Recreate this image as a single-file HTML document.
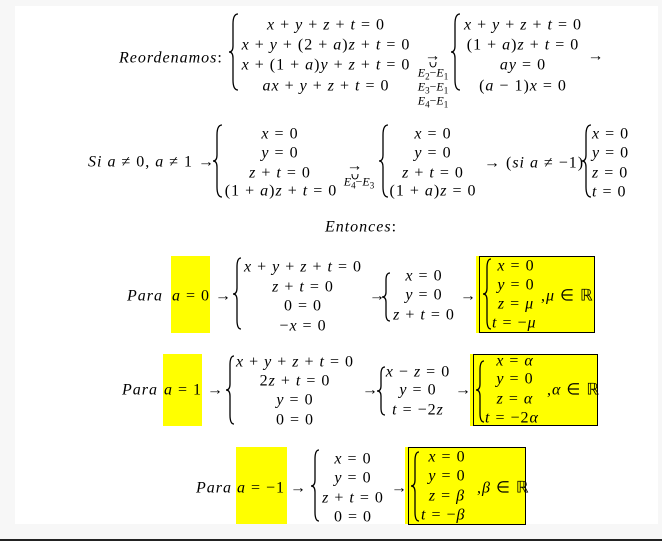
<!DOCTYPE html>
<html><head><meta charset="utf-8"><style>
html,body{margin:0;padding:0}
body{width:662px;height:541px;background:#f7f7f7;position:relative;overflow:hidden;font-family:"Liberation Serif",serif;color:#000}
.panel{position:absolute;left:15px;top:6px;width:643px;height:518px;background:#fff}
.bar{position:absolute;left:0;top:539px;width:662px;height:2px;background:#222}
.t,.l{position:absolute;font-size:16px;letter-spacing:1px;white-space:pre;line-height:1}
.t{transform:translate(-50%,-40%)}
.l{transform:translateY(-40%)}
.s{position:absolute;font-size:12px;white-space:pre;transform:translate(-50%,-50%);line-height:1}
i{font-style:italic}
svg{position:absolute;left:0;top:0}
</style></head><body>
<div class="panel"></div>
<div class="bar"></div>
<svg width="662" height="541">
<rect x="171" y="256" width="39" height="77" fill="#ffff00"/>
<rect x="476" y="256" width="4" height="77" fill="#ffff00"/>
<rect x="479.5" y="256.5" width="115" height="76" fill="#ffff00" stroke="#000" stroke-width="1"/>
<rect x="163" y="354" width="39" height="72" fill="#ffff00"/>
<rect x="470" y="354" width="4" height="72" fill="#ffff00"/>
<rect x="473.5" y="354.5" width="124" height="71" fill="#ffff00" stroke="#000" stroke-width="1"/>
<rect x="236" y="447" width="51" height="77" fill="#ffff00"/>
<rect x="405" y="447" width="4" height="77" fill="#ffff00"/>
<rect x="408.5" y="447.5" width="117" height="77" fill="#ffff00" stroke="#000" stroke-width="1"/>
<g fill="none" stroke="#000" stroke-width="1.3">
<path d="M238,14 Q233,14 233,24 L233,46 Q233,52 229,52 Q233,52 233,58 L233,80 Q233,90 238,90"/>
<path d="M460,14 Q455,14 455,24 L455,46 Q455,52 451,52 Q455,52 455,58 L455,80 Q455,90 460,90"/>
<path d="M222,125 Q217,125 217,135 L217,155 Q217,161 213,161 Q217,161 217,167 L217,187 Q217,197 222,197"/>
<path d="M388,125 Q383,125 383,135 L383,155 Q383,161 379,161 Q383,161 383,167 L383,187 Q383,197 388,197"/>
<path d="M591,125 Q586,125 586,135 L586,155 Q586,161 582,161 Q586,161 586,167 L586,187 Q586,197 591,197"/>
<path d="M241,258 Q237,258 237,267 L237,288 Q237,294 233,294 Q237,294 237,300 L237,320 Q237,329 241,329"/>
<path d="M390,273 Q386,273 386,280 L386,292 Q386,297 382,297 Q386,297 386,302 L386,314 Q386,321 390,321"/>
<path d="M491,259 Q487,259 487,268 L487,288 Q487,294 483,294 Q487,294 487,300 L487,320 Q487,329 491,329"/>
<path d="M234,356 Q230,356 230,365 L230,384 Q230,390 226,390 Q230,390 230,396 L230,415 Q230,424 234,424"/>
<path d="M385,367 Q381,367 381,374 L381,386 Q381,391 377,391 Q381,391 381,396 L381,408 Q381,415 385,415"/>
<path d="M484,361 Q480,361 480,370 L480,384 Q480,390 476,390 Q480,390 480,396 L480,413 Q480,422 484,422"/>
<path d="M319,450 Q315,450 315,459 L315,480 Q315,486 311,486 Q315,486 315,492 L315,512 Q315,521 319,521"/>
<path d="M419,452 Q415,452 415,461 L415,480 Q415,486 411,486 Q415,486 415,492 L415,512 Q415,521 419,521"/>
</g>
<g fill="none" stroke="#000" stroke-width="1">
<path d="M430,62 Q430,67 433,67 Q436,67 436,62"/>
<path d="M352,174 Q352,179 355,179 Q358,179 358,174"/>
</g>
</svg>

<div class="l" style="left:119px;top:57px"><i>Reordenamos</i>:</div>
<div class="t" style="left:326px;top:24px"><i>x</i> + <i>y</i> + <i>z</i> + <i>t</i> = 0</div>
<div class="t" style="left:326px;top:44px"><i>x</i> + <i>y</i> + (2 + <i>a</i>)<i>z</i> + <i>t</i> = 0</div>
<div class="t" style="left:326px;top:64px"><i>x</i> + (1 + <i>a</i>)<i>y</i> + <i>z</i> + <i>t</i> = 0</div>
<div class="t" style="left:326px;top:85px"><i>ax</i> + <i>y</i> + <i>z</i> + <i>t</i> = 0</div>
<div class="t" style="left:433px;top:55px">→</div>
<div class="s" style="left:433px;top:74px"><i>E</i><sub style="font-size:9px">2</sub>−<i>E</i><sub style="font-size:9px">1</sub></div>
<div class="s" style="left:433px;top:88px"><i>E</i><sub style="font-size:9px">3</sub>−<i>E</i><sub style="font-size:9px">1</sub></div>
<div class="s" style="left:433px;top:102px"><i>E</i><sub style="font-size:9px">4</sub>−<i>E</i><sub style="font-size:9px">1</sub></div>
<div class="t" style="left:523px;top:24px"><i>x</i> + <i>y</i> + <i>z</i> + <i>t</i> = 0</div>
<div class="t" style="left:523px;top:44px">(1 + <i>a</i>)<i>z</i> + <i>t</i> = 0</div>
<div class="t" style="left:523px;top:64px"><i>ay</i> = 0</div>
<div class="t" style="left:523px;top:85px">(<i>a</i> − 1)<i>x</i> = 0</div>
<div class="t" style="left:596px;top:55px">→</div>

<div class="l" style="left:88px;top:161px"><i>Si a</i> ≠ 0, <i>a</i> ≠ 1 →</div>
<div class="t" style="left:280px;top:133px"><i>x</i> = 0</div>
<div class="t" style="left:280px;top:152px"><i>y</i> = 0</div>
<div class="t" style="left:280px;top:172px"><i>z</i> + <i>t</i> = 0</div>
<div class="t" style="left:281px;top:190px">(1 + <i>a</i>)<i>z</i> + <i>t</i> = 0</div>
<div class="t" style="left:355px;top:165px">→</div>
<div class="s" style="left:359px;top:183px"><i>E</i><sub style="font-size:9px">4</sub>−<i>E</i><sub style="font-size:9px">3</sub></div>
<div class="t" style="left:433px;top:133px"><i>x</i> = 0</div>
<div class="t" style="left:433px;top:152px"><i>y</i> = 0</div>
<div class="t" style="left:433px;top:172px"><i>z</i> + <i>t</i> = 0</div>
<div class="t" style="left:433px;top:190px">(1 + <i>a</i>)<i>z</i> = 0</div>
<div class="l" style="left:484px;top:162px">→ (<i>si a</i> ≠ −1)</div>
<div class="l" style="left:592px;top:133px"><i>x</i> = 0</div>
<div class="l" style="left:592px;top:152px"><i>y</i> = 0</div>
<div class="l" style="left:592px;top:172px"><i>z</i> = 0</div>
<div class="l" style="left:592px;top:191px"><i>t</i> = 0</div>

<div class="t" style="left:361px;top:226px"><i>Entonces</i>:</div>

<div class="l" style="left:127px;top:295px"><i>Para</i></div>
<div class="l" style="left:172px;top:295px"><i>a</i> = 0 →</div>
<div class="t" style="left:303px;top:266px"><i>x</i> + <i>y</i> + <i>z</i> + <i>t</i> = 0</div>
<div class="t" style="left:303px;top:286px"><i>z</i> + <i>t</i> = 0</div>
<div class="t" style="left:303px;top:305px">0 = 0</div>
<div class="t" style="left:303px;top:325px">−<i>x</i> = 0</div>
<div class="l" style="left:369px;top:295px">→</div>
<div class="t" style="left:424px;top:275px"><i>x</i> = 0</div>
<div class="t" style="left:424px;top:294px"><i>y</i> = 0</div>
<div class="t" style="left:424px;top:314px"><i>z</i> + <i>t</i> = 0</div>
<div class="l" style="left:460px;top:295px">→</div>
<div class="t" style="left:516px;top:265px"><i>x</i> = 0</div>
<div class="t" style="left:516px;top:284px"><i>y</i> = 0</div>
<div class="t" style="left:516px;top:303px"><i>z</i> = <i>μ</i></div>
<div class="l" style="left:492px;top:322px"><i>t</i> = −<i>μ</i></div>
<div class="l" style="left:541px;top:295px">,<i>μ</i> ∈ ℝ</div>

<div class="l" style="left:122px;top:389px"><i>Para</i></div>
<div class="l" style="left:164px;top:389px"><i>a</i> = 1 →</div>
<div class="t" style="left:295px;top:361px"><i>x</i> + <i>y</i> + <i>z</i> + <i>t</i> = 0</div>
<div class="t" style="left:295px;top:380px">2<i>z</i> + <i>t</i> = 0</div>
<div class="t" style="left:295px;top:399px"><i>y</i> = 0</div>
<div class="t" style="left:295px;top:419px">0 = 0</div>
<div class="l" style="left:362px;top:389px">→</div>
<div class="t" style="left:418px;top:371px"><i>x</i> − <i>z</i> = 0</div>
<div class="t" style="left:418px;top:389px"><i>y</i> = 0</div>
<div class="t" style="left:418px;top:409px"><i>t</i> = −2<i>z</i></div>
<div class="l" style="left:455px;top:389px">→</div>
<div class="t" style="left:515px;top:360px"><i>x</i> = <i>α</i></div>
<div class="t" style="left:515px;top:378px"><i>y</i> = 0</div>
<div class="t" style="left:515px;top:398px"><i>z</i> = <i>α</i></div>
<div class="l" style="left:485px;top:417px"><i>t</i> = −2<i>α</i></div>
<div class="l" style="left:547px;top:389px">,<i>α</i> ∈ ℝ</div>

<div class="l" style="left:196px;top:487px"><i>Para</i></div>
<div class="l" style="left:237px;top:487px"><i>a</i> = −1 →</div>
<div class="t" style="left:353px;top:458px"><i>x</i> = 0</div>
<div class="t" style="left:353px;top:477px"><i>y</i> = 0</div>
<div class="t" style="left:353px;top:497px"><i>z</i> + <i>t</i> = 0</div>
<div class="t" style="left:353px;top:516px">0 = 0</div>
<div class="l" style="left:391px;top:487px">→</div>
<div class="t" style="left:447px;top:456px"><i>x</i> = 0</div>
<div class="t" style="left:447px;top:475px"><i>y</i> = 0</div>
<div class="t" style="left:447px;top:495px"><i>z</i> = <i>β</i></div>
<div class="l" style="left:421px;top:514px"><i>t</i> = −<i>β</i></div>
<div class="l" style="left:477px;top:487px">,<i>β</i> ∈ ℝ</div>
</body></html>
